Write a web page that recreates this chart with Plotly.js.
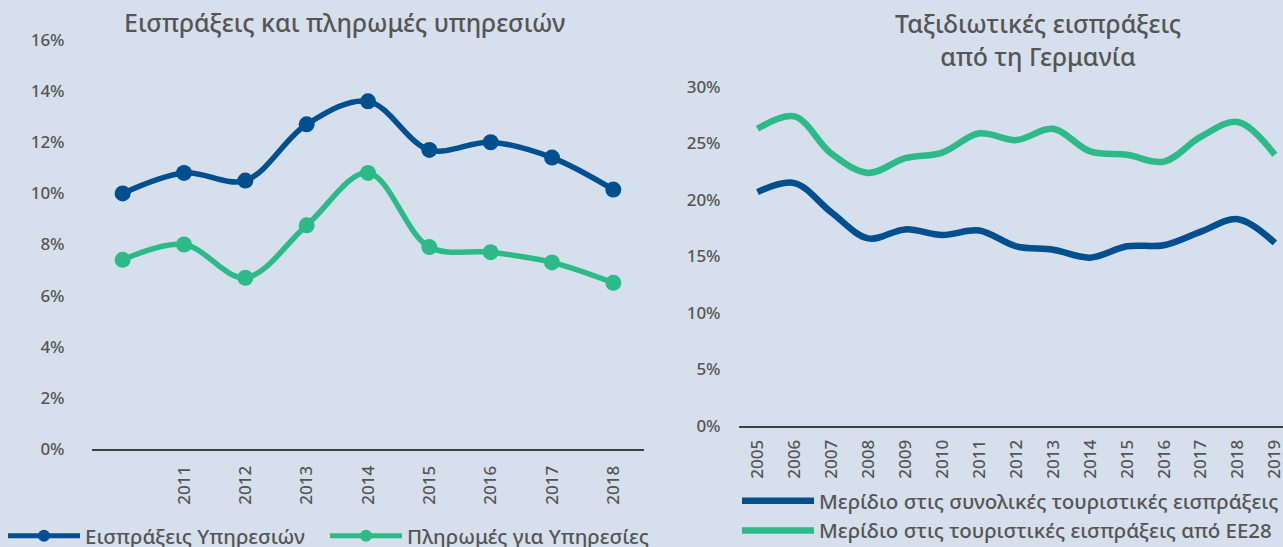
<!DOCTYPE html>
<html>
<head>
<meta charset="utf-8">
<script src="https://cdn.plot.ly/plotly-3.0.1.min.js"></script>
<style>
html,body{margin:0;padding:0;background:#d6e0ec;}
#chart{width:1283px;height:547px;}
</style>
</head>
<body>
<div id="chart"></div>
<script>
// Left chart: services receipts & payments
const servCategories = ['2010','2011','2012','2013','2014','2015','2016','2017','2018'];
const servTickLabels = ['2011','2012','2013','2014','2015','2016','2017','2018'];
const servReceipts = [10.0, 10.8, 10.5, 12.7, 13.6, 11.7, 12.0, 11.4, 10.15];
const servPayments = [7.4, 8.0, 6.7, 8.75, 10.8, 7.9, 7.7, 7.3, 6.5];

// Right chart: travel receipts from Germany
const travelYears = ['2005','2006','2007','2008','2009','2010','2011','2012','2013','2014','2015','2016','2017','2018','2019'];
const shareTotal = [20.7, 21.5, 18.9, 16.6, 17.4, 16.9, 17.3, 15.9, 15.6, 14.9, 15.9, 16.0, 17.2, 18.3, 16.2];
const shareEU28 = [26.3, 27.4, 24.1, 22.4, 23.7, 24.2, 25.9, 25.3, 26.3, 24.3, 24.0, 23.4, 25.6, 26.9, 24.0];

const BLUE = '#004f8f';
const GREEN = '#2dba88';
const GREY = '#555555';
const BG = '#d6e0ec';
const FONT = 'Noto Sans, Open Sans, sans-serif';

const traces = [
  {x: servCategories, y: servReceipts, name: 'Εισπράξεις Υπηρεσιών', type: 'scatter', mode: 'lines+markers',
   line: {color: BLUE, width: 5.5, shape: 'spline', smoothing: 1}, marker: {color: BLUE, size: 16},
   xaxis: 'x', yaxis: 'y', legend: 'legend'},
  {x: servCategories, y: servPayments, name: 'Πληρωμές για Υπηρεσίες', type: 'scatter', mode: 'lines+markers',
   line: {color: GREEN, width: 5.5, shape: 'spline', smoothing: 1}, marker: {color: GREEN, size: 16},
   xaxis: 'x', yaxis: 'y', legend: 'legend3'},
  {x: travelYears, y: shareTotal, name: 'Μερίδιο στις συνολικές τουριστικές εισπράξεις', type: 'scatter', mode: 'lines',
   line: {color: BLUE, width: 6.5, shape: 'spline', smoothing: 1},
   xaxis: 'x2', yaxis: 'y2', legend: 'legend2'},
  {x: travelYears, y: shareEU28, name: 'Μερίδιο στις τουριστικές εισπράξεις από ΕΕ28', type: 'scatter', mode: 'lines',
   line: {color: GREEN, width: 6.5, shape: 'spline', smoothing: 1},
   xaxis: 'x2', yaxis: 'y2', legend: 'legend2'}
];

const tickFont = {family: FONT, size: 17, color: GREY, weight: 500};
const legendFont = {family: FONT, size: 20.5, color: GREY, weight: 500};
const titleFont = {family: FONT, size: 25, color: GREY, weight: 500};

const layout = {
  width: 1283, height: 547,
  margin: {l: 0, r: 0, t: 0, b: 0, autoexpand: false},
  paper_bgcolor: BG, plot_bgcolor: BG,
  font: {family: FONT, color: GREY},
  showlegend: true,
  xaxis: {domain: [92/1283, 644/1283], type: 'category', range: [-0.5, 8.5],
          tickmode: 'array', tickvals: servTickLabels, ticktext: servTickLabels,
          tickangle: -90, tickfont: tickFont, showgrid: false, zeroline: false,
          showline: true, linecolor: '#404040', linewidth: 2,
          ticks: 'outside', ticklen: 8, tickcolor: 'rgba(0,0,0,0)', anchor: 'y', fixedrange: true},
  yaxis: {domain: [98/547, 507/547], range: [0, 16], dtick: 2, ticksuffix: '%',
          tickfont: tickFont, showgrid: false, zeroline: false, showline: false,
          ticks: 'outside', ticklen: 23, tickcolor: 'rgba(0,0,0,0)', anchor: 'x', fixedrange: true},
  xaxis2: {domain: [739/1283, 1], type: 'category', range: [-0.5, 14.22],
          tickangle: -90, tickfont: tickFont, showgrid: false, zeroline: false,
          showline: true, linecolor: '#404040', linewidth: 2,
          ticks: 'outside', ticklen: 5, tickcolor: 'rgba(0,0,0,0)', anchor: 'y2', fixedrange: true},
  yaxis2: {domain: [121/547, 460/547], range: [0, 30], dtick: 5, ticksuffix: '%',
          tickfont: tickFont, showgrid: false, zeroline: false, showline: false,
          ticks: 'outside', ticklen: 14, tickcolor: 'rgba(0,0,0,0)', anchor: 'x2', fixedrange: true},
  legend: {orientation: 'h', x: 3/1283, xanchor: 'left', y: 11/547, yanchor: 'middle',
           font: legendFont, bgcolor: 'rgba(0,0,0,0)', itemsizing: 'constant',
           itemwidth: 72, traceorder: 'normal'},
  legend3: {orientation: 'h', x: 325/1283, xanchor: 'left', y: 11/547, yanchor: 'middle',
           font: legendFont, bgcolor: 'rgba(0,0,0,0)', itemsizing: 'constant',
           itemwidth: 72, traceorder: 'normal'},
  legend2: {orientation: 'v', x: 737/1283, xanchor: 'left', y: 31/547, yanchor: 'middle',
           font: legendFont, bgcolor: 'rgba(0,0,0,0)',
           itemwidth: 72, tracegroupgap: 0, traceorder: 'normal'},
  annotations: [
    {text: 'Εισπράξεις και πληρωμές υπηρεσιών', xref: 'paper', yref: 'paper',
     x: 344/1283, y: (547-22)/547, xanchor: 'center', yanchor: 'middle', showarrow: false,
     font: titleFont},
    {text: 'Ταξιδιωτικές εισπράξεις<br>από τη Γερμανία', xref: 'paper', yref: 'paper',
     x: 1038/1283, y: (547-39)/547, xanchor: 'center', yanchor: 'middle', showarrow: false,
     font: titleFont}
  ]
};

Plotly.newPlot('chart', traces, layout, {displayModeBar: false, staticPlot: true});
</script>
</body>
</html>
